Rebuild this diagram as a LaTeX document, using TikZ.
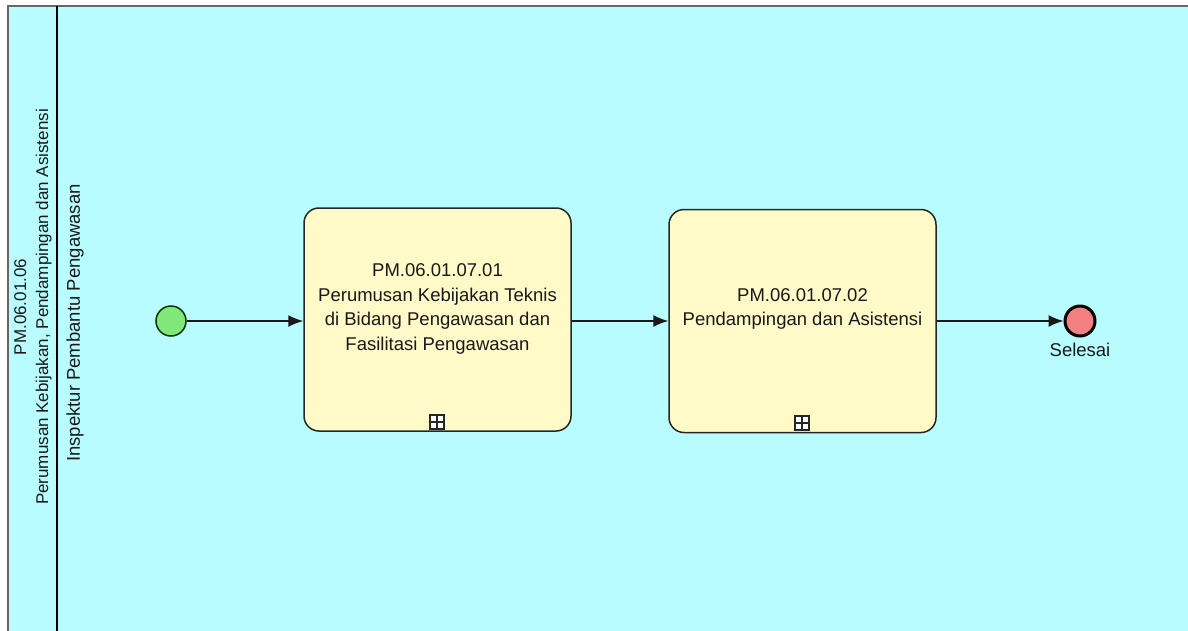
\documentclass[tikz,border=0pt]{standalone}
\usepackage{fontspec}
\setmainfont{Liberation Sans}
\usetikzlibrary{arrows.meta}
\definecolor{poolfill}{RGB}{184,252,255}
\definecolor{taskfill}{RGB}{255,250,200}
\definecolor{startfill}{RGB}{128,232,120}
\definecolor{endfill}{RGB}{242,128,128}
\definecolor{txt}{RGB}{25,25,25}
\tikzset{
  lbl/.style={font=\fontsize{18.5}{24.5}\selectfont, text=txt, align=center, inner sep=0pt},
  poollbl/.style={font=\fontsize{17}{22}\selectfont, text=txt, align=center, inner sep=0pt},
  taskbox/.style={draw=black!85, line width=1.5pt, fill=taskfill, rounded corners=15pt, minimum width=267pt, minimum height=223pt, inner sep=0pt},
  marker/.style={draw=black!85, line width=1.2pt, fill=white, minimum width=14pt, minimum height=14pt, inner sep=0pt},
  flow/.style={line width=1.4pt, draw=black!90, -{Latex[length=15pt,width=12pt]}},
  startev/.style={circle, draw=black!80!green, line width=1.5pt, fill=startfill, minimum size=30pt, inner sep=0pt},
  endev/.style={circle, draw=black, line width=3pt, fill=endfill, minimum size=30pt, inner sep=0pt}
}
\begin{document}
\begin{tikzpicture}[x=1pt,y=-1pt]
\useasboundingbox (0,0) rectangle (1188,630);
\fill[white] (0,0) rectangle (1188,630);
\fill[poolfill] (8,6) rectangle (1190,632);
\draw[black!60, line width=1.2pt] (1190,6) -- (8,6) -- (8,632);
\draw[black, line width=2pt] (57,6) -- (57,632);
% pool and lane labels
\node[poollbl, rotate=90] (pool) at (33,307) {PM.06.01.06\\Perumusan Kebijakan, Pendampingan dan Asistensi};
\node[lbl, rotate=90] (lane) at (75,323) {Inspektur Pembantu Pengawasan};
% events
\node[startev] (start) at (171,321) {};
\node[endev] (end) at (1080,321) {};
\node[lbl, anchor=north] (endlbl) at (1080,343) {Selesai};
% tasks
\node[taskbox] (t1) at (437.5,319.5) {};
\node[lbl] (t1lbl) at (437.5,309) {PM.06.01.07.01\\Perumusan Kebijakan Teknis\\di Bidang Pengawasan dan\\Fasilitasi Pengawasan};
\node[marker] (m1) at (437,422) {};
\draw[black!85, line width=1.2pt] (m1.north) -- (m1.south) (m1.west) -- (m1.east);
\node[taskbox] (t2) at (802.5,321) {};
\node[lbl] (t2lbl) at (802.5,309) {PM.06.01.07.02\\Pendampingan dan Asistensi};
\node[marker] (m2) at (802,423) {};
\draw[black!85, line width=1.2pt] (m2.north) -- (m2.south) (m2.west) -- (m2.east);
% flows
\draw[flow] (start.east) -- (start.east -| t1.west);
\draw[flow] (t1.east |- 0,321) -- (t2.west);
\draw[flow] (t2.east) -- (end.west);
\end{tikzpicture}
\end{document}
